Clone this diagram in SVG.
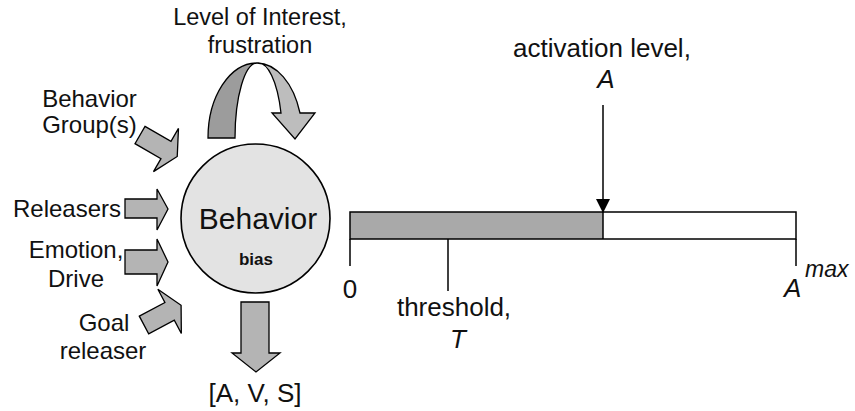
<svg xmlns="http://www.w3.org/2000/svg" width="855" height="411" viewBox="0 0 855 411">
<defs>
<style>
text{font-family:"Liberation Sans",Arial,Helvetica,sans-serif;fill:#111;}
.lbl{font-size:24px;}
.big{font-size:26px;}
.it{font-style:italic;}
.mid{text-anchor:middle;}
.blk{fill:#b4b4b4;stroke:#000;stroke-width:1.3;stroke-linejoin:miter;}
.ln{stroke:#000;stroke-width:1.5;fill:none;}
</style>
<marker id="ah" viewBox="0 0 14 14" refX="13" refY="7" markerWidth="14" markerHeight="14" markerUnits="userSpaceOnUse" orient="auto">
<path d="M0,0 L14,7 L0,14 Z" fill="#000"/>
</marker>
</defs>
<rect width="855" height="411" fill="#fff"/>

<g id="behavior">
<circle cx="255.5" cy="218.5" r="74.5" fill="#e3e3e3" stroke="#000" stroke-width="1.6"/>
<text x="258" y="229" class="mid" style="font-size:30px">Behavior</text>
<text x="256" y="265" class="mid" style="font-size:17px;font-weight:bold">bias</text>
</g>

<g id="interest">
<text x="260" y="25" class="mid" style="font-size:23.5px">Level of Interest,</text>
<text x="260" y="53" class="mid" style="font-size:23.5px">frustration</text>
<path d="M208,138 A49,75 0 0 1 257,63 A22,75 0 0 0 235,138 Z" fill="#9c9c9c" stroke="#000" stroke-width="1.3"/>
<path d="M257,63 A46,75 0 0 1 300,113 L315,113 L295,139 L272,113 L281,113 A24,75 0 0 0 257,63 Z" fill="#bdbdbd" stroke="#000" stroke-width="1.3"/>
</g>

<g id="behavior-group">
<text x="89.5" y="107" class="lbl mid">Behavior</text>
<text x="89.5" y="133" class="lbl mid">Group(s)</text>
<polygon class="blk" transform="translate(140,135) rotate(30)" points="0,-10 30,-10 30,-25 43,0 30,25 30,10 0,10"/>
</g>

<g id="releasers">
<text x="13" y="217" class="lbl">Releasers</text>
<polygon class="blk" points="125,199 157,199 157,189 168,209 157,230 157,218 125,218"/>
</g>

<g id="emotion">
<text x="76" y="258" class="lbl mid">Emotion,</text>
<text x="76" y="287" class="lbl mid">Drive</text>
<polygon class="blk" points="125,250 157,250 157,239 168,262 157,286 157,274 125,274"/>
</g>

<g id="goal">
<text x="104" y="331" class="lbl mid">Goal</text>
<text x="103" y="359" class="lbl mid">releaser</text>
<polygon class="blk" transform="translate(144,325) rotate(-28)" points="0,-10 29,-10 29,-25 42,0 29,25 29,10 0,10"/>
</g>

<g id="output">
<polygon class="blk" points="241,302 269,302 269,353 280,353 256,372 232,353 241,353"/>
<text x="255" y="402" class="big mid">[A, V, S]</text>
</g>

<g id="activation-bar">
<rect x="350" y="212" width="253" height="27" fill="#a9a9a9"/>
<rect x="350" y="212" width="446" height="27" class="ln"/>
<line x1="603" y1="212" x2="603" y2="239" class="ln"/>
<text x="350" y="298" class="big mid">0</text>
<text x="454" y="316" class="big mid">threshold,</text>
<text x="458" y="348" class="big mid it">T</text>
<text x="784" y="297" class="big it">A</text>
<text x="805" y="277" class="it" style="font-size:23px">max</text>
<text x="602" y="57" class="big mid">activation level,</text>
<text x="606" y="88" class="big mid it">A</text>
</g>

<g id="connectors">
<line x1="350" y1="239" x2="350" y2="266" class="ln"/>
<line x1="448" y1="239" x2="448" y2="291" class="ln"/>
<line x1="796" y1="239" x2="796" y2="266" class="ln"/>
<line x1="603" y1="105" x2="603" y2="212" class="ln" marker-end="url(#ah)"/>
</g>
</svg>
